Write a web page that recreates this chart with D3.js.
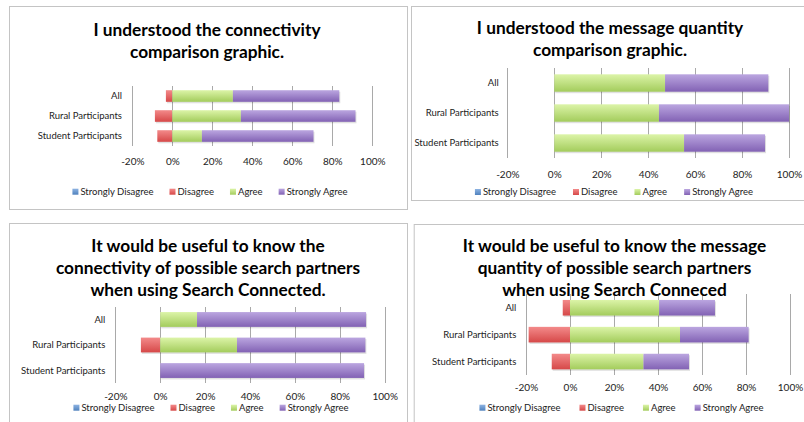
<!DOCTYPE html>
<html>
<head>
<meta charset="utf-8">
<script src="https://cdn.jsdelivr.net/npm/d3@7"></script>
<style>
  body { margin: 0; background: #fff; }
  svg { display: block; }
  text { font-family: Lato, "Open Sans", sans-serif; }
</style>
</head>
<body>
<svg id="chart" width="804" height="422"></svg>
<script>
// categories / series shared by all four charts
var categories = ["All", "Rural Participants", "Student Participants"];
var seriesNames = ["Strongly Disagree", "Disagree", "Agree", "Strongly Agree"];
var tickValues = [-20, 0, 20, 40, 60, 80, 100];

// chart 1 - I understood the connectivity comparison graphic.
var connUnderstoodSD = [0, 0, 0];
var connUnderstoodD  = [3.2, 8.7, 7.5];
var connUnderstoodA  = [30.3, 34.3, 14.8];
var connUnderstoodSA = [53.2, 57.3, 55.8];

// chart 2 - I understood the message quantity comparison graphic.
var msgUnderstoodSD = [0, 0, 0];
var msgUnderstoodD  = [0, 0, 0];
var msgUnderstoodA  = [47.2, 44.6, 55.3];
var msgUnderstoodSA = [44.0, 55.4, 34.5];

// chart 3 - useful to know connectivity
var connUsefulSD = [0, 0, 0];
var connUsefulD  = [0, 8.6, 0];
var connUsefulA  = [16.4, 34.2, 0];
var connUsefulSA = [75.3, 57.2, 90.8];

// chart 4 - useful to know message quantity
var msgUsefulSD = [0, 0, 0];
var msgUsefulD  = [3.3, 18.8, 8.3];
var msgUsefulA  = [40.5, 50.0, 33.4];
var msgUsefulSA = [25.4, 31.2, 20.7];

var colors = {
  "Strongly Disagree": ["#8db3e2", "#4f81bd"],
  "Disagree": ["#f38a8a", "#d64848"],
  "Agree": ["#dcf4a8", "#a3cc5c"],
  "Strongly Agree": ["#bba6e0", "#8262b4"]
};

var svg = d3.select("#chart");

// gradients, light on top, dark at the bottom (old excel look)
var defs = svg.append("defs");
seriesNames.forEach(function (name, i) {
  var grad = defs.append("linearGradient")
    .attr("id", "grad" + i)
    .attr("x1", 0).attr("y1", 0).attr("x2", 0).attr("y2", 1);
  grad.append("stop").attr("offset", "0%").attr("stop-color", colors[name][0]);
  grad.append("stop").attr("offset", "100%").attr("stop-color", colors[name][1]);
});

var panels = [
  {
    title: ["I understood the connectivity", "comparison graphic."],
    sd: connUnderstoodSD, d: connUnderstoodD, a: connUnderstoodA, sa: connUnderstoodSA,
    box: [9, 6, 407, 209], xRange: [132.3, 372.3], yRange: [86, 146],
    titleX: 207, titleY: [30, 51.7], tickY: 161, legendY: 191.7, legendCx: 210, legendGap: 16, catX: 122
  },
  {
    title: ["I understood the message quantity", "comparison graphic."],
    sd: msgUnderstoodSD, d: msgUnderstoodD, a: msgUnderstoodA, sa: msgUnderstoodSA,
    box: [411, 6, 830, 200], xRange: [507.3, 789], yRange: [68, 158],
    titleX: 610, titleY: [28.3, 50], tickY: 174, legendY: 192, legendCx: 614, legendGap: 17, catX: 498.7
  },
  {
    title: ["It would be useful to know the", "connectivity of possible search partners", "when using Search Connected."],
    sd: connUsefulSD, d: connUsefulD, a: connUsefulA, sa: connUsefulSA,
    box: [9, 223, 407, 440], xRange: [115.3, 384.7], yRange: [306.7, 383.3],
    titleX: 208, titleY: [246, 268.3, 290.3], tickY: 396.3, legendY: 407.7, legendCx: 211, legendGap: 16, catX: 105.3
  },
  {
    title: ["It would be useful to know the message", "quantity of possible search partners", "when using Search Conneced"],
    sd: msgUsefulSD, d: msgUsefulD, a: msgUsefulA, sa: msgUsefulSA,
    box: [413.7, 224, 830, 440], xRange: [526, 790], yRange: [294.3, 375],
    titleX: 614.5, titleY: [246, 267.7, 290], tickY: 387, legendY: 407.7, legendCx: 621.5, legendGap: 19, catX: 516.3
  }
];

panels.forEach(drawPanel);

function drawPanel(p) {
  var g = svg.append("g");

  g.append("rect")
    .attr("x", p.box[0] + 0.5).attr("y", p.box[1] + 0.5)
    .attr("width", p.box[2] - p.box[0]).attr("height", p.box[3] - p.box[1])
    .attr("fill", "#fff").attr("stroke", "#c4c4c4");

  var x = d3.scaleLinear().domain([-20, 100]).range(p.xRange);
  var y = d3.scaleBand().domain(categories).range(p.yRange)
    .paddingInner(0.42).paddingOuter(0.21);

  // gridlines + percent labels
  var plotH = p.yRange[1] - p.yRange[0];
  var xAxis = g.append("g")
    .attr("transform", "translate(0," + p.yRange[1] + ")")
    .call(d3.axisBottom(x).tickValues(tickValues).tickSize(-plotH)
      .tickFormat(function (d) { return d + "%"; }));
  xAxis.select(".domain").remove();
  xAxis.selectAll("line").attr("stroke", "#a9a9a9").attr("shape-rendering", "crispEdges");
  xAxis.selectAll("text")
    .attr("y", p.tickY - p.yRange[1]).attr("dy", "0.35em")
    .attr("fill", "#222").style("font-size", "10px");

  // category labels
  var yAxis = g.append("g")
    .attr("transform", "translate(" + p.catX + ",0)")
    .call(d3.axisLeft(y).tickSize(0).tickPadding(0));
  yAxis.select(".domain").remove();
  yAxis.selectAll("text").attr("fill", "#222").style("font-size", "9.5px");

  // diverging stack
  var rows = categories.map(function (c, i) {
    return {
      cat: c,
      "Strongly Disagree": -p.sd[i],
      "Disagree": -p.d[i],
      "Agree": p.a[i],
      "Strongly Agree": p.sa[i]
    };
  });
  var stacked = d3.stack().keys(seriesNames).offset(d3.stackOffsetDiverging)(rows);

  var layers = g.selectAll("g.layer").data(stacked).enter()
    .append("g").attr("class", "layer")
    .attr("fill", function (d, i) { return "url(#grad" + i + ")"; });

  layers.selectAll("rect.shadow")
    .data(function (d) { return d.filter(function (v) { return v[1] - v[0] !== 0; }); })
    .enter().append("rect").attr("class", "shadow")
    .attr("x", function (v) { return x(Math.min(v[0], v[1])) + 1; })
    .attr("y", function (v) { return y(v.data.cat) + 1.5; })
    .attr("width", function (v) { return Math.abs(x(v[1]) - x(v[0])); })
    .attr("height", y.bandwidth())
    .attr("fill", "#000").attr("opacity", 0.12);

  layers.selectAll("rect.bar")
    .data(function (d) { return d.filter(function (v) { return v[1] - v[0] !== 0; }); })
    .enter().append("rect").attr("class", "bar")
    .attr("x", function (v) { return x(Math.min(v[0], v[1])); })
    .attr("y", function (v) { return y(v.data.cat); })
    .attr("width", function (v) { return Math.abs(x(v[1]) - x(v[0])); })
    .attr("height", y.bandwidth());

  // title
  var title = g.append("text")
    .attr("text-anchor", "middle")
    .style("font-size", "17.3px").style("font-weight", "bold").attr("fill", "#000");
  p.title.forEach(function (line, i) {
    title.append("tspan").attr("x", p.titleX).attr("y", p.titleY[i]).attr("dy", "0.35em").text(line);
  });

  // legend, centred, widths measured
  var leg = g.append("g");
  var items = leg.selectAll("g").data(seriesNames).enter().append("g");
  items.append("rect").attr("width", 6).attr("height", 6).attr("y", -3)
    .attr("fill", function (d, i) { return "url(#grad" + i + ")"; });
  items.append("text").attr("x", 8).attr("dy", "0.35em")
    .attr("fill", "#222").style("font-size", "9.5px")
    .text(function (d) { return d; });
  var cx = 0;
  items.each(function () {
    d3.select(this).attr("transform", "translate(" + cx + ",0)");
    cx += this.getBBox().width + p.legendGap;
  });
  var total = cx - p.legendGap;
  leg.attr("transform", "translate(" + (p.legendCx - total / 2) + "," + p.legendY + ")");
}
</script>
</body>
</html>
